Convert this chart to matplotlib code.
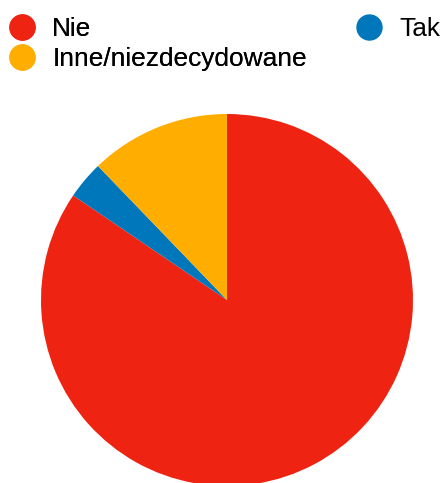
import matplotlib
matplotlib.use("Agg")
import matplotlib.pyplot as plt
from matplotlib.lines import Line2D

labels = ["Nie", "Tak", "Inne/niezdecydowane"]
values = [84.5, 3.3, 12.2]
colors = ["#ee2311", "#0077bb", "#ffae00"]

plt.rcParams['font.family'] = ['Liberation Sans', 'DejaVu Sans']

W, H = 443, 483
fig = plt.figure(figsize=(W / 100, H / 100), dpi=100)

# pie axes: centre (227, 300) px, radius 186 px
cx, cy, r = 227, 300, 186
ax = fig.add_axes([(cx - r) / W, (H - cy - r) / H, 2 * r / W, 2 * r / H])
ax.pie(values, colors=colors, startangle=90, counterclock=False,
       wedgeprops=dict(linewidth=0), radius=1)
ax.set_xlim(-1, 1)
ax.set_ylim(-1, 1)
ax.set_aspect('equal')
ax.axis('off')

def handle(c):
    return Line2D([], [], marker='o', linestyle='none', markersize=18,
                  markerfacecolor=c, markeredgecolor=c)

fs = 18.9
leg1 = fig.legend([handle(colors[0]), handle(colors[2])], [labels[0], labels[2]],
                  loc='upper left', bbox_to_anchor=(10 / W, 1 - 17 / H),
                  frameon=False, fontsize=fs, borderpad=0, borderaxespad=0,
                  handlelength=0.95, handletextpad=0.66, labelspacing=0.22)
leg2 = fig.legend([handle(colors[1])], [labels[1]],
                  loc='upper left', bbox_to_anchor=(357 / W, 1 - 17 / H),
                  frameon=False, fontsize=fs, borderpad=0, borderaxespad=0,
                  handlelength=0.95, handletextpad=0.66)
fig.add_artist(leg1)

fig.savefig("out.png", dpi=100)
